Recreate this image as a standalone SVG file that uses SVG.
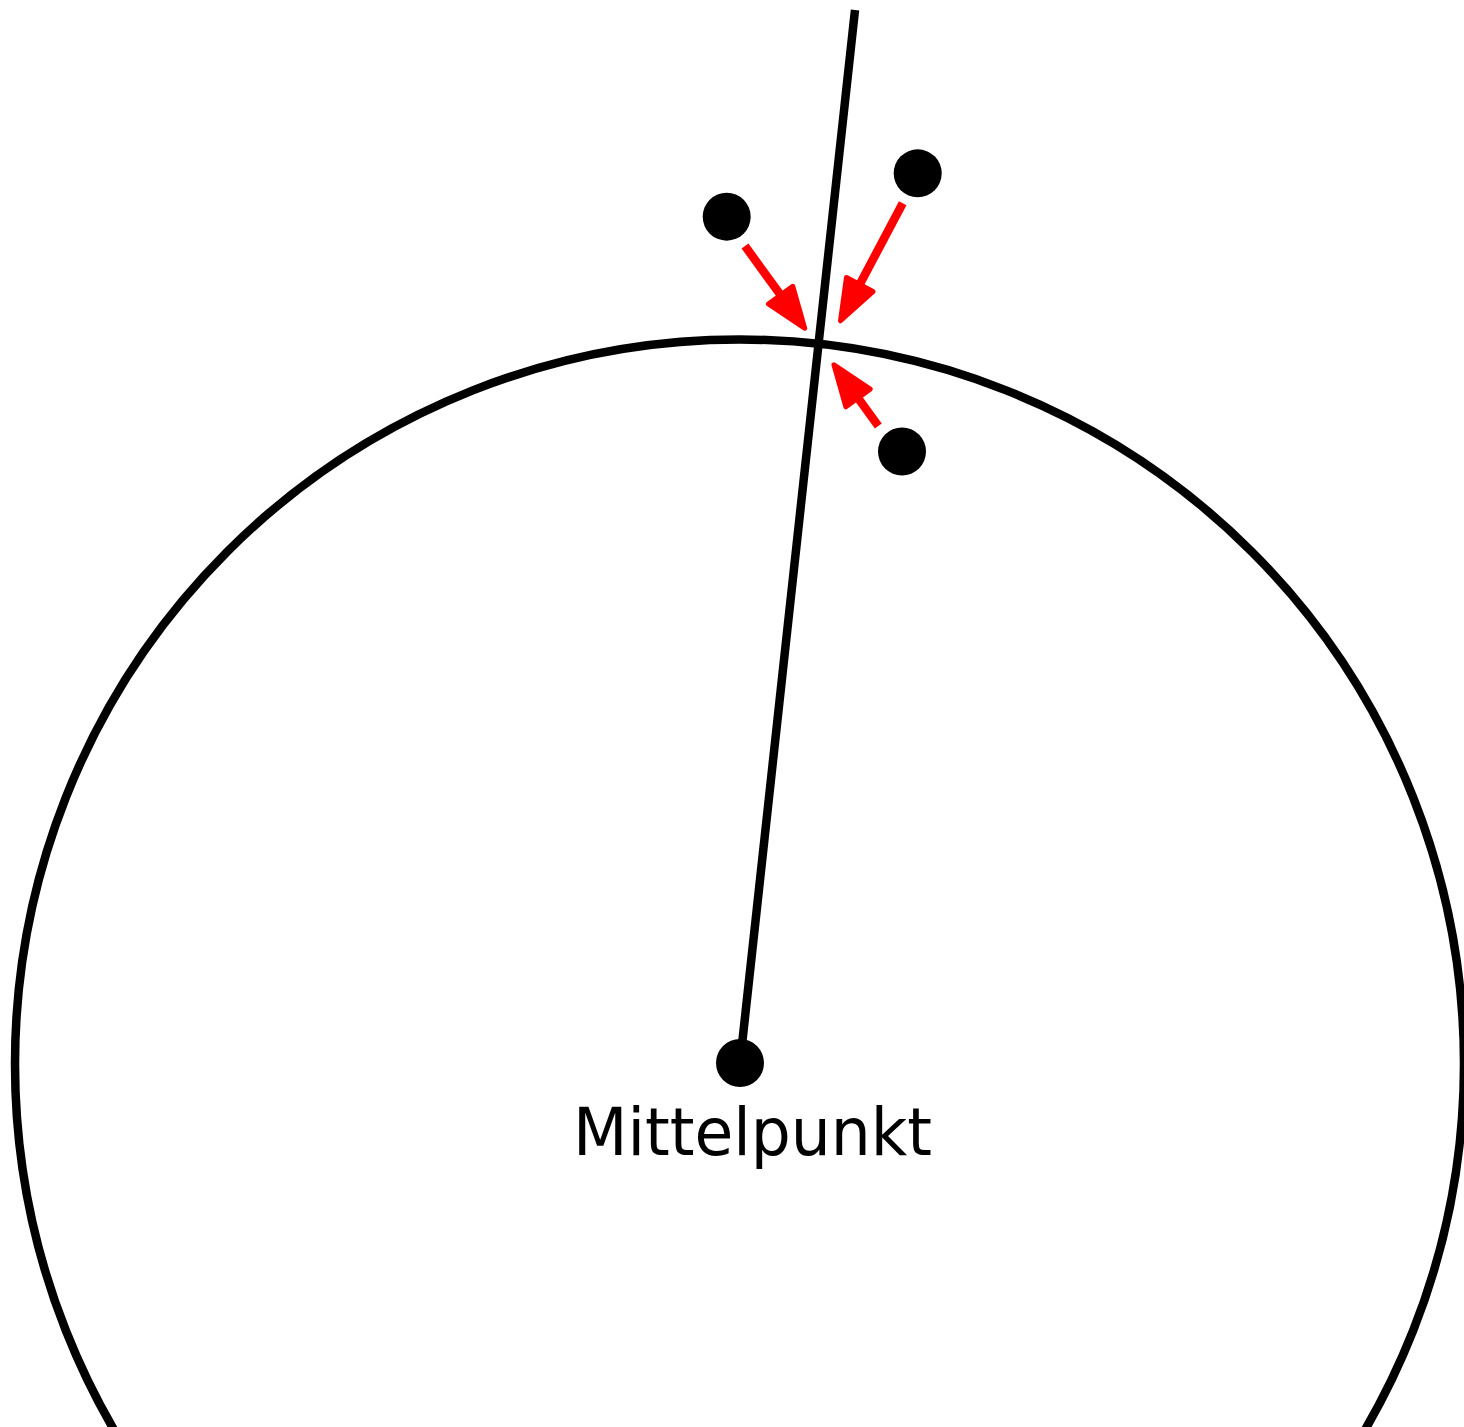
<svg xmlns="http://www.w3.org/2000/svg" width="1464" height="1427" viewBox="0 0 1464 1427">
<style>
.bk{fill:none;stroke:#000;stroke-width:8.5}
.dot{fill:#000}
.ar{fill:none;stroke:#ff0000;stroke-width:8.5;stroke-linecap:butt}
.lbl{font-family:"DejaVu Sans","Liberation Sans",sans-serif;font-size:66px;fill:#000}
</style>
<defs>
<marker id="ah" markerUnits="userSpaceOnUse" viewBox="-5 -22 52 44" markerWidth="52" markerHeight="44" refX="0" refY="0" orient="auto" overflow="visible">
<path d="M0,-15 L41,0 L0,15 Z" fill="#ff0000" stroke="#ff0000" stroke-width="5" stroke-linejoin="round"/>
</marker>
</defs>
<rect width="1464" height="1427" fill="#fff"/>
<g id="circle"><circle class="bk" cx="739.5" cy="1064" r="724.5"/></g>
<g id="radius"><line class="bk" x1="740" y1="1063" x2="855" y2="10"/></g>
<g id="connectors">
<path class="ar" d="M745,246 L780.6,295.1" marker-end="url(#ah)"/>
<path class="ar" d="M902.7,203.3 L859.7,284.5" marker-end="url(#ah)"/>
<path class="ar" d="M878.3,426 L858,398" marker-end="url(#ah)"/>
</g>
<g id="p1"><circle class="dot" cx="726.7" cy="216.7" r="24"/></g>
<g id="p2"><circle class="dot" cx="917.7" cy="173.3" r="24"/></g>
<g id="p3"><circle class="dot" cx="902" cy="451.5" r="24"/></g>
<g id="center"><circle class="dot" cx="740" cy="1063" r="24"/>
<text class="lbl" x="573" y="1155" textLength="359" lengthAdjust="spacingAndGlyphs">Mittelpunkt</text></g>
</svg>
